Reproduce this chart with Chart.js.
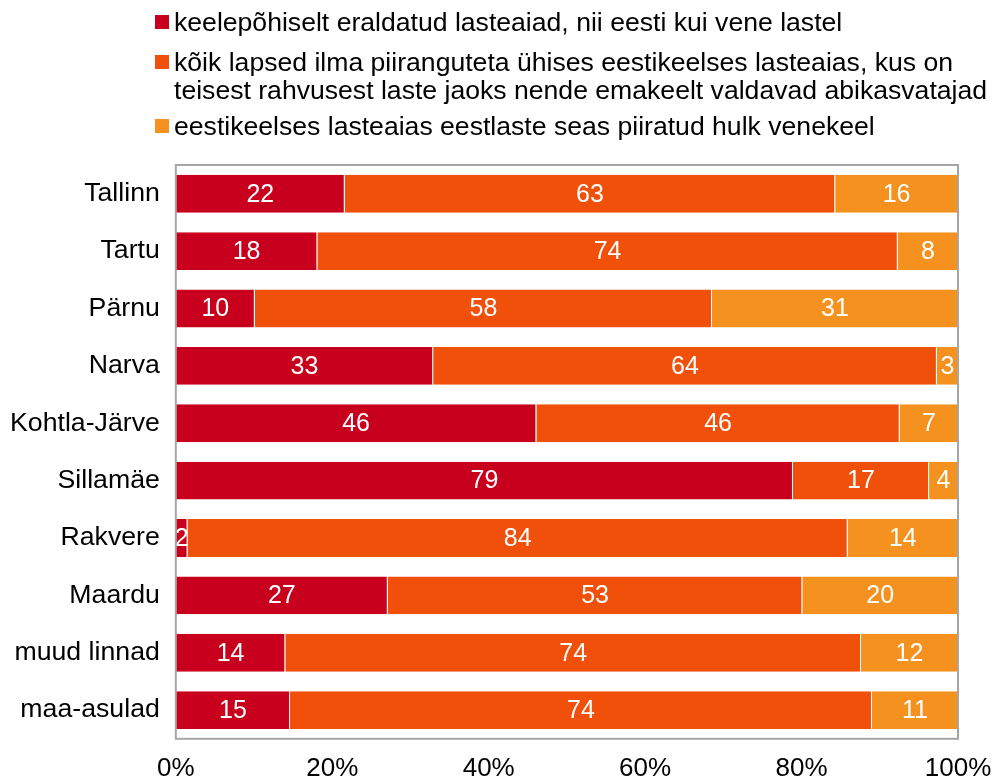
<!DOCTYPE html>
<html>
<head>
<meta charset="utf-8">
<script src="https://cdn.jsdelivr.net/npm/chart.js@4"></script>
<style>
  body{margin:0;background:#fff;font-family:"Liberation Sans",Arial,sans-serif;overflow:hidden;}
  #wrap{position:relative;width:994px;height:782px;overflow:hidden;}
  #legend{position:absolute;left:155px;top:8px;font-size:26.6px;color:#000;line-height:28px;white-space:nowrap;}
  #legend .item{position:relative;padding-left:19px;}
  #legend .box{position:absolute;left:0;top:7px;width:14px;height:14px;}
</style>
</head>
<body>
<div id="wrap">
  <canvas id="chart" width="994" height="790"></canvas>
  <div id="legend"></div>
</div>
<script>
const categories = ["Tallinn","Tartu","Pärnu","Narva","Kohtla-Järve","Sillamäe","Rakvere","Maardu","muud linnad","maa-asulad"];
const separated = [21.6,18.1,10.1,32.9,46.1,78.9,1.5,27.1,14.0,14.6];
const commonEst = [62.7,74.2,58.45,64.4,46.45,17.4,84.4,53.0,73.6,74.4];
const limitedRus = [15.7,7.7,31.45,2.7,7.45,3.7,14.1,19.9,12.4,11.0];
const seriesNames = [
  "keelepõhiselt eraldatud lasteaiad, nii eesti kui vene lastel",
  "kõik lapsed ilma piiranguteta ühises eestikeelses lasteaias, kus on\nteisest rahvusest laste jaoks nende emakeelt valdavad abikasvatajad",
  "eestikeelses lasteaias eestlaste seas piiratud hulk venekeel"
];
const colors = ["#C8001E","#F0500A","#F5921F"];
const fontFamily = '"Liberation Sans", Arial, sans-serif';

// legend as html, second entry wraps onto two lines
const legendEl = document.getElementById("legend");
const gaps = [12,8,0];
seriesNames.forEach((name,i)=>{
    const item = document.createElement("div");
    item.className = "item";
    item.style.marginBottom = gaps[i]+"px";
    item.innerHTML = '<span class="box" style="background:'+colors[i]+'"></span>'+name.replace("\n","<br>");
    legendEl.appendChild(item);
});

const labelPlugin = {
    id:"barLabels",
    afterDatasetsDraw(chart){
        const ctx = chart.ctx;
        ctx.save();
        ctx.fillStyle = "#fff";
        ctx.font = "25px " + fontFamily;
        ctx.textAlign = "center";
        ctx.textBaseline = "middle";
        chart.data.datasets.forEach((ds,di)=>{
            chart.getDatasetMeta(di).data.forEach((bar,i)=>{
                const x = (bar.x + bar.base)/2;
                ctx.fillText(Math.round(ds.data[i]), x, bar.y+1);
            });
        });
        ctx.restore();
    }
};

const boxPlugin = {
    id:"plotBox",
    afterDraw(chart){
        const a = chart.chartArea, ctx = chart.ctx;
        ctx.save();
        ctx.strokeStyle = "#A6A6A6";
        ctx.lineWidth = 2;
        ctx.strokeRect(a.left, a.top, a.right-a.left, a.bottom-a.top);
        ctx.restore();
    }
};

const data = [separated, commonEst, limitedRus];
new Chart(document.getElementById("chart").getContext("2d"),{
    type:"bar",
    data:{
        labels:categories,
        datasets:data.map((d,i)=>({
            label:seriesNames[i],
            data:d,
            backgroundColor:colors[i],
            borderColor:"rgba(255,255,255,0.45)",
            borderWidth:{left:0,top:0,bottom:0,right:1},
            borderSkipped:false,
            categoryPercentage:0.66,
            barPercentage:1
        }))
    },
    options:{
        indexAxis:"y",
        responsive:false,
        animation:false,
        layout:{padding:{top:165,right:14,left:2,bottom:0}},
        plugins:{legend:{display:false},tooltip:{enabled:false}},
        scales:{
            x:{
                stacked:true,min:0,max:100,
                grid:{display:false},
                border:{display:false},
                afterFit(scale){ scale.paddingRight = 36; },
                ticks:{stepSize:20,color:"#000",padding:6,maxRotation:0,font:{size:26,family:fontFamily},callback:v=>v+"%"}
            },
            y:{
                stacked:true,
                grid:{display:false},
                border:{display:false},
                ticks:{color:"#000",padding:8,font:{size:26.7,family:fontFamily}}
            }
        }
    },
    plugins:[labelPlugin,boxPlugin]
});
</script>
</body>
</html>
